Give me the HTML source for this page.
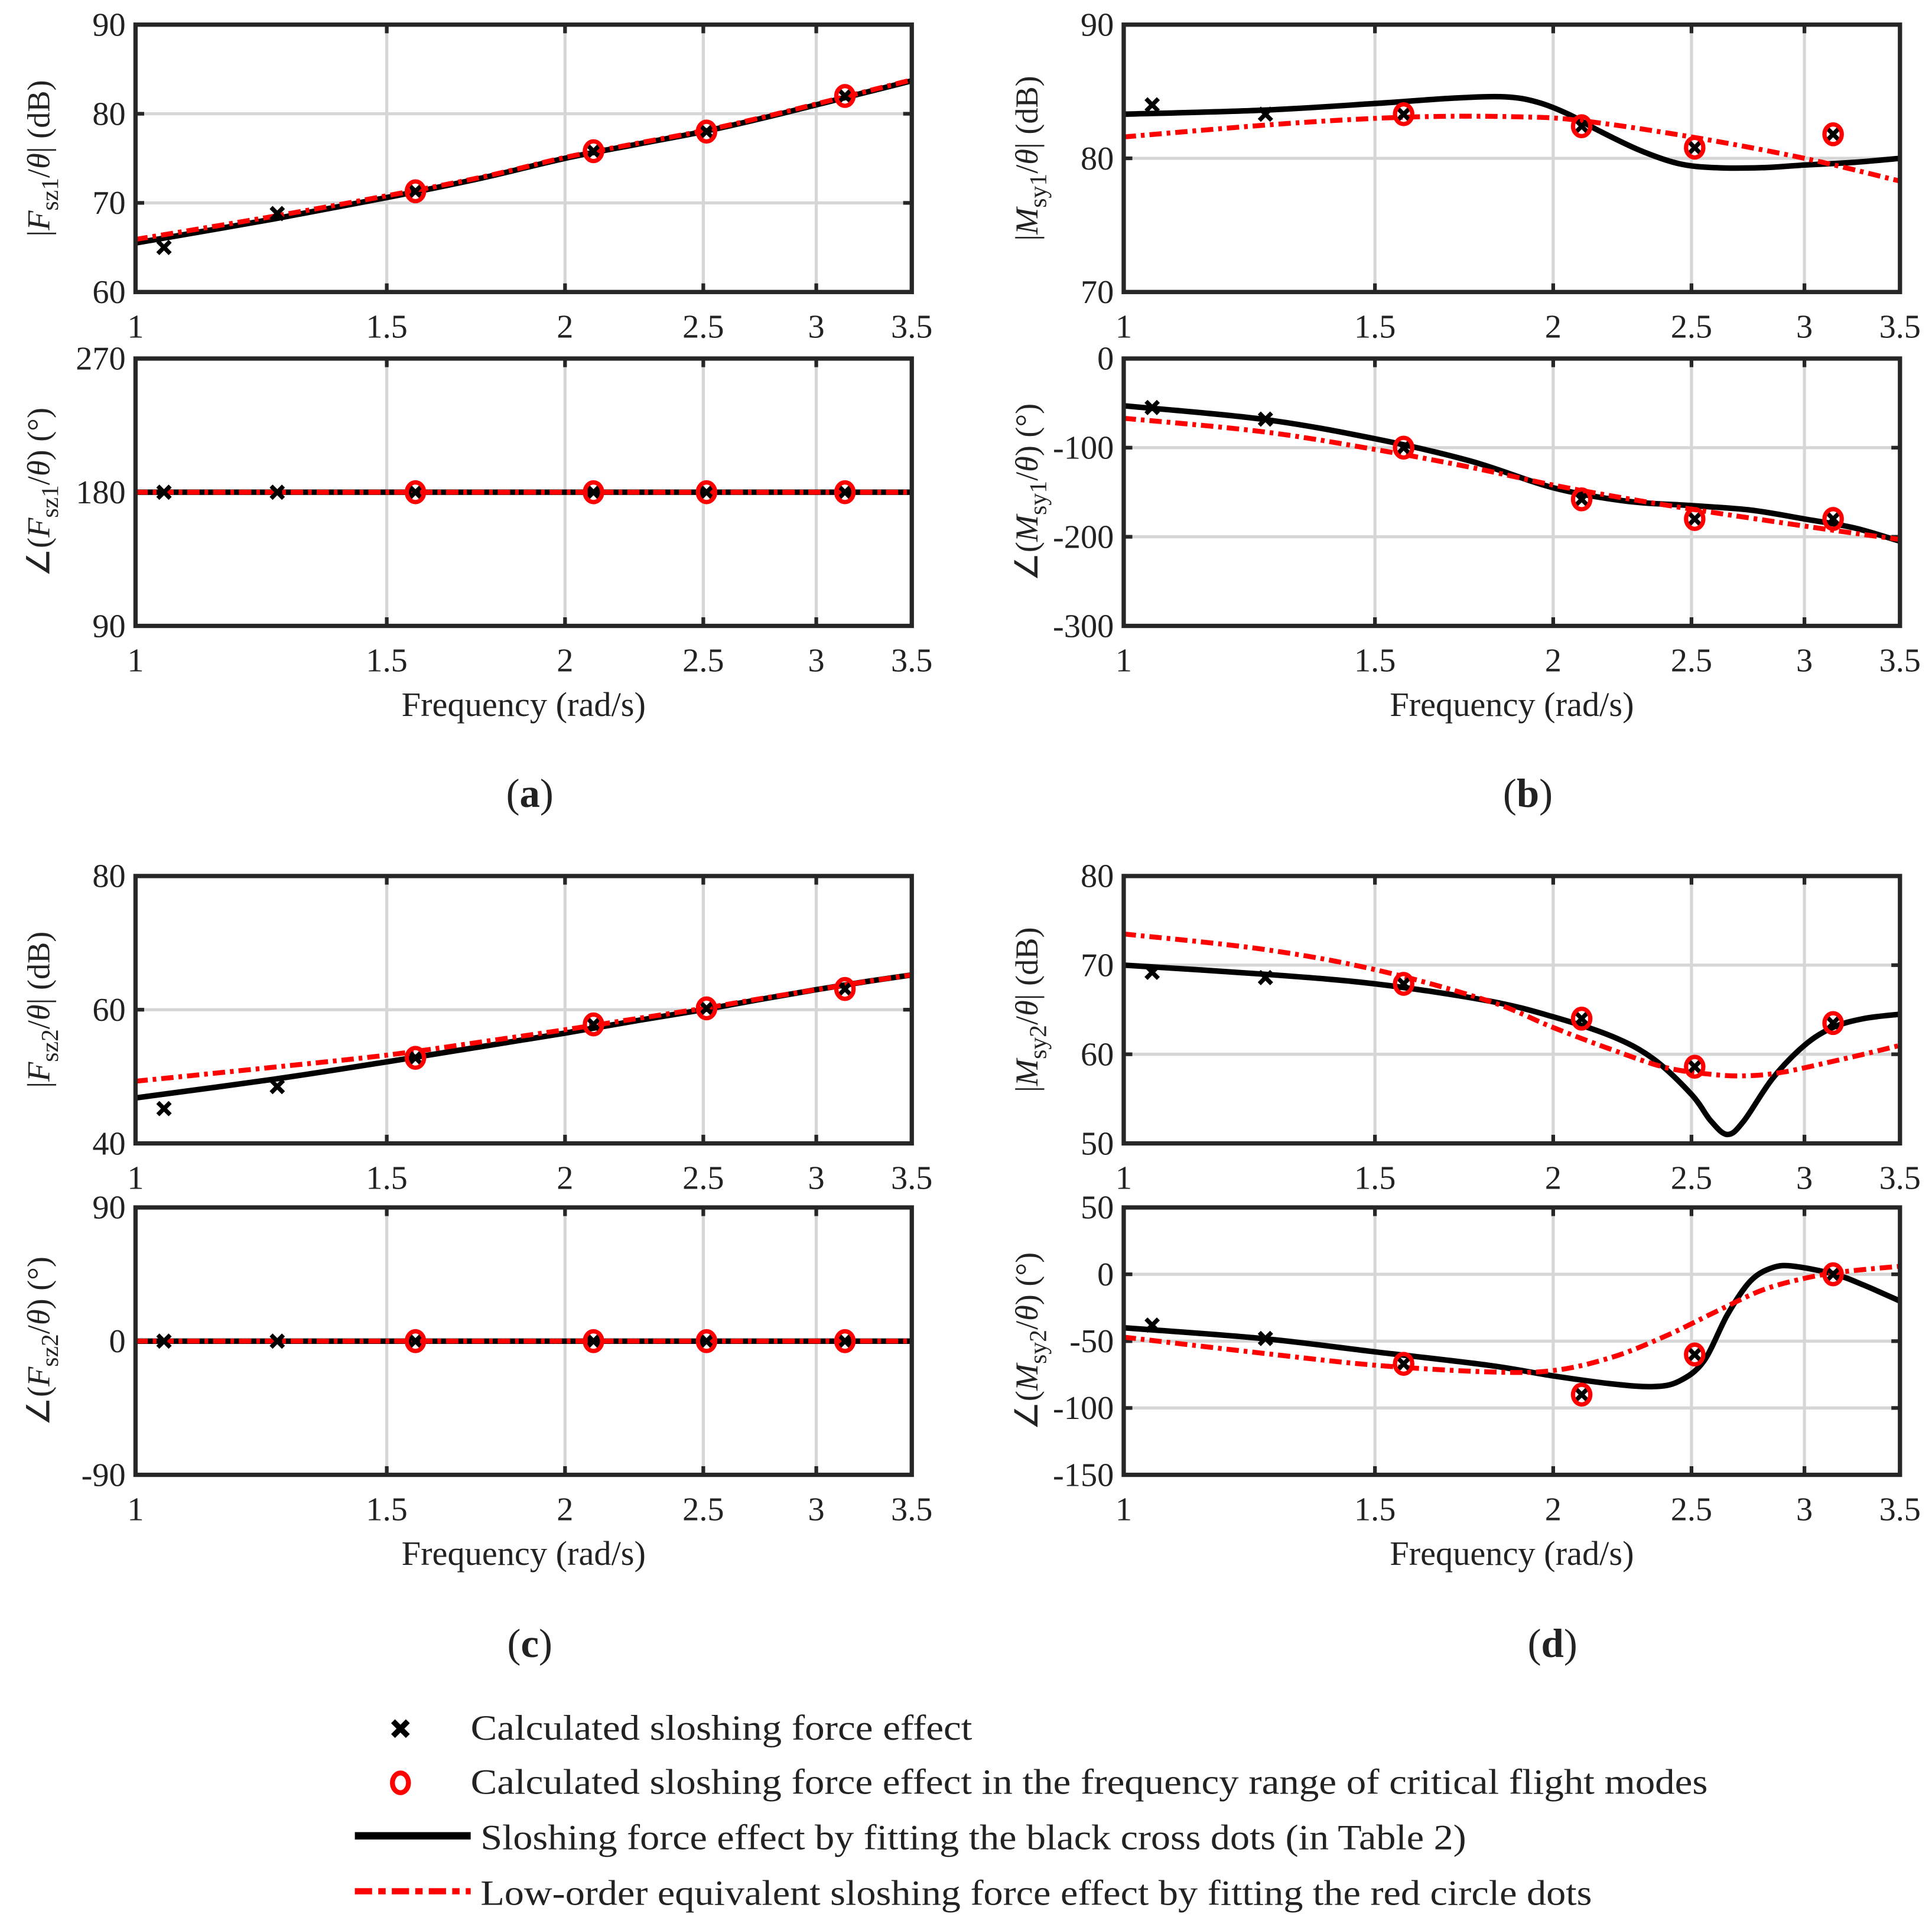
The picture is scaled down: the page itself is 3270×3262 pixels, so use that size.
<!DOCTYPE html>
<html><head><meta charset="utf-8"><style>
html,body{margin:0;padding:0;background:#fff;}
svg{display:block;}
svg text{font-family:"Liberation Serif","Times New Roman",Times,serif;fill:#222;}
</style></head><body>
<svg id="fig" width="3270" height="3262" viewBox="0 0 1568 1564" preserveAspectRatio="none" xmlns="http://www.w3.org/2000/svg" font-family="Liberation Serif, Times New Roman, serif">
<g id="plots"></g>
<g id="legend">
  <g>
    <path d="M319,1397 L331,1409 M331,1397 L319,1409" stroke="#000" stroke-width="4.5"/>
    <text x="382" y="1412" font-size="29" textLength="407" lengthAdjust="spacingAndGlyphs" fill="#000">Calculated sloshing force effect</text>
  </g>
  <g>
    <ellipse cx="325" cy="1447" rx="6.5" ry="8" fill="none" stroke="#f00" stroke-width="4"/>
    <text x="382" y="1456" font-size="29" textLength="1004" lengthAdjust="spacingAndGlyphs" fill="#000">Calculated sloshing force effect in the frequency range of critical flight modes</text>
  </g>
  <g>
    <line x1="288" y1="1490" x2="382" y2="1490" stroke="#000" stroke-width="6"/>
    <text x="390" y="1501" font-size="29" textLength="800" lengthAdjust="spacingAndGlyphs" fill="#000">Sloshing force effect by fitting the black cross dots (in Table 2)</text>
  </g>
  <g>
    <line x1="288" y1="1535" x2="382" y2="1535" stroke="#f00" stroke-width="5" stroke-dasharray="14,5,6,5"/>
    <text x="390" y="1546" font-size="29" textLength="902" lengthAdjust="spacingAndGlyphs" fill="#000">Low-order equivalent sloshing force effect by fitting the red circle dots</text>
  </g>
</g>
</svg>
<script>
// ---- data ----
const markerFreq = [1.047, 1.257, 1.571, 2.094, 2.513, 3.142];
const circleIdx = [2, 3, 4, 5];
const xTicks = [1, 1.5, 2, 2.5, 3, 3.5];
const xTickLabels = ['1', '1.5', '2', '2.5', '3', '3.5'];

const aMagCross = [65, 68.8, 71.3, 75.8, 78, 82];
const aMagBlackX = [1, 1.25, 1.5, 1.75, 2, 2.25, 2.5, 2.75, 3, 3.25, 3.5];
const aMagBlackY = [65.5, 68.2, 70.6, 72.8, 75, 76.6, 78, 79.5, 81, 82.4, 83.7];
const aMagRedY = [65.9, 68.5, 70.8, 72.9, 75.1, 76.7, 78.1, 79.6, 81.1, 82.5, 83.8];
const aPhCross = [180, 180, 180, 180, 180, 180];
const aPhX = [1, 3.5];
const aPhBlackY = [180, 180];
const aPhRedY = [180, 180];

const bMagCross = [84, 83.3, 83.3, 82.4, 80.8, 81.8];
const bMagBlackX = [1, 1.25, 1.5, 1.7, 1.85, 1.95, 2.05, 2.15, 2.3, 2.45, 2.6, 2.8, 3.0, 3.25, 3.5];
const bMagBlackY = [83.3, 83.6, 84.1, 84.5, 84.6, 84.2, 83.3, 82.1, 80.6, 79.6, 79.3, 79.3, 79.5, 79.7, 80];
const bMagRedX = [1, 1.3, 1.6, 1.9, 2.1, 2.5, 3.0, 3.5];
const bMagRedY = [81.6, 82.6, 83.1, 83.1, 82.8, 81.6, 80, 78.3];
const bPhCross = [-55, -68, -100, -158, -180, -180];
const bPhBlackX = [1, 1.25, 1.5, 1.75, 2, 2.25, 2.5, 2.75, 3, 3.25, 3.5];
const bPhBlackY = [-53, -68, -90, -115, -145, -160, -165, -170, -180, -190, -205];
const bPhRedY = [-67, -82, -102, -122, -142, -157, -169, -179, -188, -196, -203];

const cMagCross = [45.2, 48.5, 52.8, 57.8, 60.2, 63.1];
const cMagX = [1, 1.25, 1.5, 1.75, 2, 2.25, 2.5, 2.75, 3, 3.25, 3.5];
const cMagBlackY = [46.8, 49.6, 52.2, 54.5, 56.5, 58.4, 60, 61.6, 63, 64.2, 65.2];
const cMagRedY = [49.3, 51.4, 53.2, 55.2, 57, 58.7, 60.2, 61.7, 63, 64.2, 65.2];
const cPhCross = [0, 0, 0, 0, 0, 0];
const cPhX = [1, 3.5];
const cPhBlackY = [0, 0];
const cPhRedY = [0, 0];

const dMagCross = [69.2, 68.6, 67.9, 64, 58.6, 63.5];
const dMagBlackX = [1, 1.25, 1.5, 1.8, 2, 2.2, 2.35, 2.5, 2.58, 2.65, 2.72, 2.85, 3.0, 3.14, 3.3, 3.5];
const dMagBlackY = [70, 69, 67.9, 66, 64.2, 62, 59.5, 55.5, 52.5, 51, 52.5, 57.3, 61, 63, 64, 64.5];
const dMagRedX = [1, 1.25, 1.5, 1.8, 2, 2.2, 2.4, 2.6, 2.75, 2.9, 3.1, 3.3, 3.5];
const dMagRedY = [73.5, 71.8, 69.5, 66, 63, 60.5, 58.5, 57.7, 57.6, 58, 59, 60, 61];
const dPhCross = [-38, -48, -67, -90, -60, 0];
const dPhBlackX = [1, 1.25, 1.5, 1.8, 2, 2.2, 2.35, 2.45, 2.55, 2.65, 2.75, 2.85, 2.95, 3.15, 3.3, 3.5];
const dPhBlackY = [-40, -48, -58, -68, -76, -82, -84, -80, -65, -30, -5, 5, 6, 0, -8, -20];
const dPhRedX = [1, 1.25, 1.5, 1.8, 2, 2.2, 2.4, 2.6, 2.8, 3.0, 3.2, 3.5];
const dPhRedY = [-47, -59, -68, -73, -72, -62, -46, -28, -12, -3, 2, 6];

// ---- layout ----
const NS = 'http://www.w3.org/2000/svg';
const root = document.getElementById('plots');
function mk(tag, attrs, parent) {
  const e = document.createElementNS(NS, tag);
  for (const k in attrs) e.setAttribute(k, attrs[k]);
  parent.appendChild(e);
  return e;
}
function smoothPath(pts) {
  let d = 'M' + pts[0][0].toFixed(2) + ',' + pts[0][1].toFixed(2);
  for (let i = 0; i < pts.length - 1; i++) {
    const p0 = pts[Math.max(0, i - 1)], p1 = pts[i], p2 = pts[i + 1], p3 = pts[Math.min(pts.length - 1, i + 2)];
    const c1 = [p1[0] + (p2[0] - p0[0]) / 6, p1[1] + (p2[1] - p0[1]) / 6];
    const c2 = [p2[0] - (p3[0] - p1[0]) / 6, p2[1] - (p3[1] - p1[1]) / 6];
    d += ' C' + c1[0].toFixed(2) + ',' + c1[1].toFixed(2) + ' ' + c2[0].toFixed(2) + ',' + c2[1].toFixed(2) + ' ' + p2[0].toFixed(2) + ',' + p2[1].toFixed(2);
  }
  return d;
}

function axes(cfg) {
  const g = mk('g', {}, root);
  
  
  const L = cfg.x, R = cfg.x + 630, T = cfg.y, B = cfg.y + 217;
  const xs = f => L + Math.log(f) / Math.log(3.5) * (R - L);
  const ys = v => B - (v - cfg.ymin) / (cfg.ymax - cfg.ymin) * (B - T);
  xTicks.forEach(t => {
    if (t > 1 && t < 3.5) {
      const gl = mk('line', {x1: xs(t), x2: xs(t), y1: T, y2: B, stroke: '#d6d6d6', 'stroke-width': 2.5}, g);
      
      
    }
  });
  cfg.yticks.forEach(v => {
    if (v > cfg.ymin && v < cfg.ymax) {
      const gl = mk('line', {x1: L, x2: R, y1: ys(v), y2: ys(v), stroke: '#d6d6d6', 'stroke-width': 2.5}, g);
      
      
    }
  });
  xTicks.forEach((t, i) => {
    mk('line', {x1: xs(t), x2: xs(t), y1: B, y2: B - 7, stroke: '#262626', 'stroke-width': 3}, g);
    mk('line', {x1: xs(t), x2: xs(t), y1: T, y2: T + 7, stroke: '#262626', 'stroke-width': 3}, g);
    const tl = mk('text', {x: xs(t), y: B + 37, 'font-size': 27, 'text-anchor': 'middle'}, g);
    tl.textContent = xTickLabels[i];
    
    
  });
  cfg.yticks.forEach(v => {
    mk('line', {x1: L, x2: L + 7, y1: ys(v), y2: ys(v), stroke: '#262626', 'stroke-width': 3}, g);
    mk('line', {x1: R, x2: R - 7, y1: ys(v), y2: ys(v), stroke: '#262626', 'stroke-width': 3}, g);
    const tl = mk('text', {x: L - 8, y: ys(v) + 9, 'font-size': 27, 'text-anchor': 'end'}, g);
    tl.textContent = String(v);
    
    
  });
  const clip = 'clip' + cfg.name;
  const cp = mk('clipPath', {id: clip}, g);
  mk('rect', {x: L, y: T, width: R - L, height: B - T}, cp);
  const bl = mk('path', {d: smoothPath(cfg.bx.map((f, i) => [xs(f), ys(cfg.by[i])])), fill: 'none', stroke: '#000', 'stroke-width': 4.5, 'clip-path': 'url(#' + clip + ')'}, g);
  
  
  const rl = mk('path', {d: smoothPath(cfg.rx.map((f, i) => [xs(f), ys(cfg.ry[i])])), fill: 'none', stroke: '#f00', 'stroke-width': 4, 'stroke-dasharray': '10,4,3,4', 'clip-path': 'url(#' + clip + ')'}, g);
  
  
  markerFreq.forEach((f, i) => {
    const cx = xs(f), cy = ys(cfg.cross[i]);
    const m = mk('path', {d: `M${cx-5},${cy-5} L${cx+5},${cy+5} M${cx+5},${cy-5} L${cx-5},${cy+5}`, stroke: '#000', 'stroke-width': 3.5}, g);
    
    
    if (circleIdx.includes(i)) {
      const c = mk('ellipse', {cx: cx, cy: cy, rx: 7, ry: 8, fill: 'none', stroke: '#f00', 'stroke-width': 3.5}, g);
      
      
    }
  });
  const box = mk('rect', {x: L, y: T, width: R - L, height: B - T, fill: 'none', stroke: '#262626', 'stroke-width': 3.5}, g);
  
  
  const yl = mk('text', {transform: `translate(${L - 70},${(T + B) / 2}) rotate(-90)`, 'font-size': 26, 'text-anchor': 'middle'}, g);
  yl.innerHTML = cfg.ylabel;
  
  
  if (cfg.xlabel) {
    const xl = mk('text', {x: (L + R) / 2, y: B + 73, 'font-size': 28, 'text-anchor': 'middle'}, g);
    xl.textContent = 'Frequency (rad/s)';
    
    
  }
}
function lab(sym, sub, phase) {
  const s = `<tspan font-style="italic">${sym}</tspan><tspan font-size="20" dy="7">${sub}</tspan><tspan dy="-7">/</tspan><tspan font-style="italic">θ</tspan>`;
  return phase ? `∠(${s}) (°)` : `|${s}| (dB)`;
}
const cols = [110, 912], rows = [[20, 291], [711, 980]];
axes({name: 'a-magnitude', x: cols[0], y: rows[0][0], ymin: 60, ymax: 90, yticks: [60, 70, 80, 90], cross: aMagCross, bx: aMagBlackX, by: aMagBlackY, rx: aMagBlackX, ry: aMagRedY, ylabel: lab('F', 'sz1', false)});
axes({name: 'a-phase', x: cols[0], y: rows[0][1], ymin: 90, ymax: 270, yticks: [90, 180, 270], cross: aPhCross, bx: aPhX, by: aPhBlackY, rx: aPhX, ry: aPhRedY, ylabel: lab('F', 'sz1', true), xlabel: true});
axes({name: 'b-magnitude', x: cols[1], y: rows[0][0], ymin: 70, ymax: 90, yticks: [70, 80, 90], cross: bMagCross, bx: bMagBlackX, by: bMagBlackY, rx: bMagRedX, ry: bMagRedY, ylabel: lab('M', 'sy1', false)});
axes({name: 'b-phase', x: cols[1], y: rows[0][1], ymin: -300, ymax: 0, yticks: [-300, -200, -100, 0], cross: bPhCross, bx: bPhBlackX, by: bPhBlackY, rx: bPhBlackX, ry: bPhRedY, ylabel: lab('M', 'sy1', true), xlabel: true});
axes({name: 'c-magnitude', x: cols[0], y: rows[1][0], ymin: 40, ymax: 80, yticks: [40, 60, 80], cross: cMagCross, bx: cMagX, by: cMagBlackY, rx: cMagX, ry: cMagRedY, ylabel: lab('F', 'sz2', false)});
axes({name: 'c-phase', x: cols[0], y: rows[1][1], ymin: -90, ymax: 90, yticks: [-90, 0, 90], cross: cPhCross, bx: cPhX, by: cPhBlackY, rx: cPhX, ry: cPhRedY, ylabel: lab('F', 'sz2', true), xlabel: true});
axes({name: 'd-magnitude', x: cols[1], y: rows[1][0], ymin: 50, ymax: 80, yticks: [50, 60, 70, 80], cross: dMagCross, bx: dMagBlackX, by: dMagBlackY, rx: dMagRedX, ry: dMagRedY, ylabel: lab('M', 'sy2', false)});
axes({name: 'd-phase', x: cols[1], y: rows[1][1], ymin: -150, ymax: 50, yticks: [-150, -100, -50, 0, 50], cross: dPhCross, bx: dPhBlackX, by: dPhBlackY, rx: dPhRedX, ry: dPhRedY, ylabel: lab('M', 'sy2', true), xlabel: true});

[['(a)', 430, 655], ['(b)', 1240, 655], ['(c)', 430, 1345], ['(d)', 1260, 1345]].forEach(c => {
  const t = mk('text', {x: c[1], y: c[2], 'font-size': 33, 'text-anchor': 'middle'}, root);
  t.innerHTML = `(<tspan font-weight="bold">${c[0][1]}</tspan>)`;
  
  
});
</script>
</body></html>
